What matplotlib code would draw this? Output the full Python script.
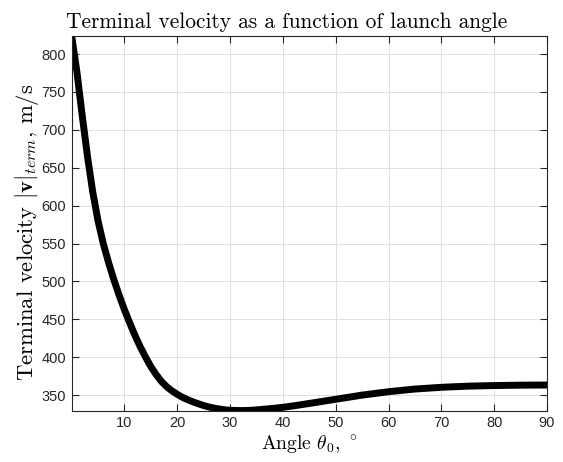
import matplotlib
matplotlib.use("Agg")
import matplotlib.pyplot as plt

# Valores (velocidade terminal vs ângulo de lançamento)
angle_deg = [0, 1, 2, 3, 4, 5, 6, 7, 8, 9, 10, 11, 12, 13, 14, 15,
             16, 17, 18, 19, 20, 21, 22, 23, 24, 25, 26, 27, 28, 29, 30, 31,
             32, 33, 34, 35, 36, 38, 40, 42, 45, 50, 55, 60, 65, 70, 75, 80,
             85, 90]
v_term = [823.7, 776, 718.5, 664.5, 617.5, 579.5, 549.5, 524.5, 502, 481.5,
          462.5, 445, 428.5, 413.5, 400, 387.5, 377, 368, 361, 355.5, 351,
          347, 343.8, 341, 338.5, 336.2, 334.3, 332.8, 331.6, 330.6, 330,
          329.7, 329.6, 329.7, 330, 330.5, 331.1, 332.4, 333.9, 335.8, 339,
          344.5, 350, 354.5, 358, 360.3, 361.8, 362.6, 363.1, 363.3]
x_ticks = [10, 20, 30, 40, 50, 60, 70, 80, 90]
y_ticks = [350, 400, 450, 500, 550, 600, 650, 700, 750, 800]

plt.rcParams['mathtext.fontset'] = 'cm'
plt.rcParams['font.family'] = ['Liberation Sans', 'DejaVu Sans']

fig = plt.figure(figsize=(5.63, 4.62), dpi=100)
ax = fig.add_axes([0.1273, 0.111, 0.8443, 0.811])

ax.plot(angle_deg, v_term, color='black', lw=5, solid_capstyle='round',
        solid_joinstyle='round')

ax.set_xlim(min(angle_deg), max(angle_deg))
ax.set_ylim(min(v_term) - 0.2, max(v_term))
ax.set_xticks(x_ticks)
ax.set_yticks(y_ticks)

axis_col = '#262626'
for s in ax.spines.values():
    s.set_color(axis_col)
    s.set_linewidth(0.8)
ax.tick_params(direction='in', top=True, right=True, length=5, width=0.8,
               color=axis_col, labelsize=10.5, labelcolor=axis_col, pad=4)
ax.grid(True, color='#e0e0e0', lw=0.7)
ax.set_axisbelow(True)

serif = 'cmr10'
ax.set_title('Terminal velocity as a function of launch angle',
             fontsize=15.4, family=serif, x=0.453, pad=6)
ax.set_xlabel(r'Angle $\theta_0$, $^\circ$', fontsize=14.1, family=serif,
              labelpad=2)
ax.set_ylabel(r'Terminal velocity $|\mathbf{v}|_{term}$, m/s', fontsize=16.3,
              family=serif)
ax.yaxis.set_label_coords(-0.065, 0.476)

fig.savefig('out.png', dpi=100)
